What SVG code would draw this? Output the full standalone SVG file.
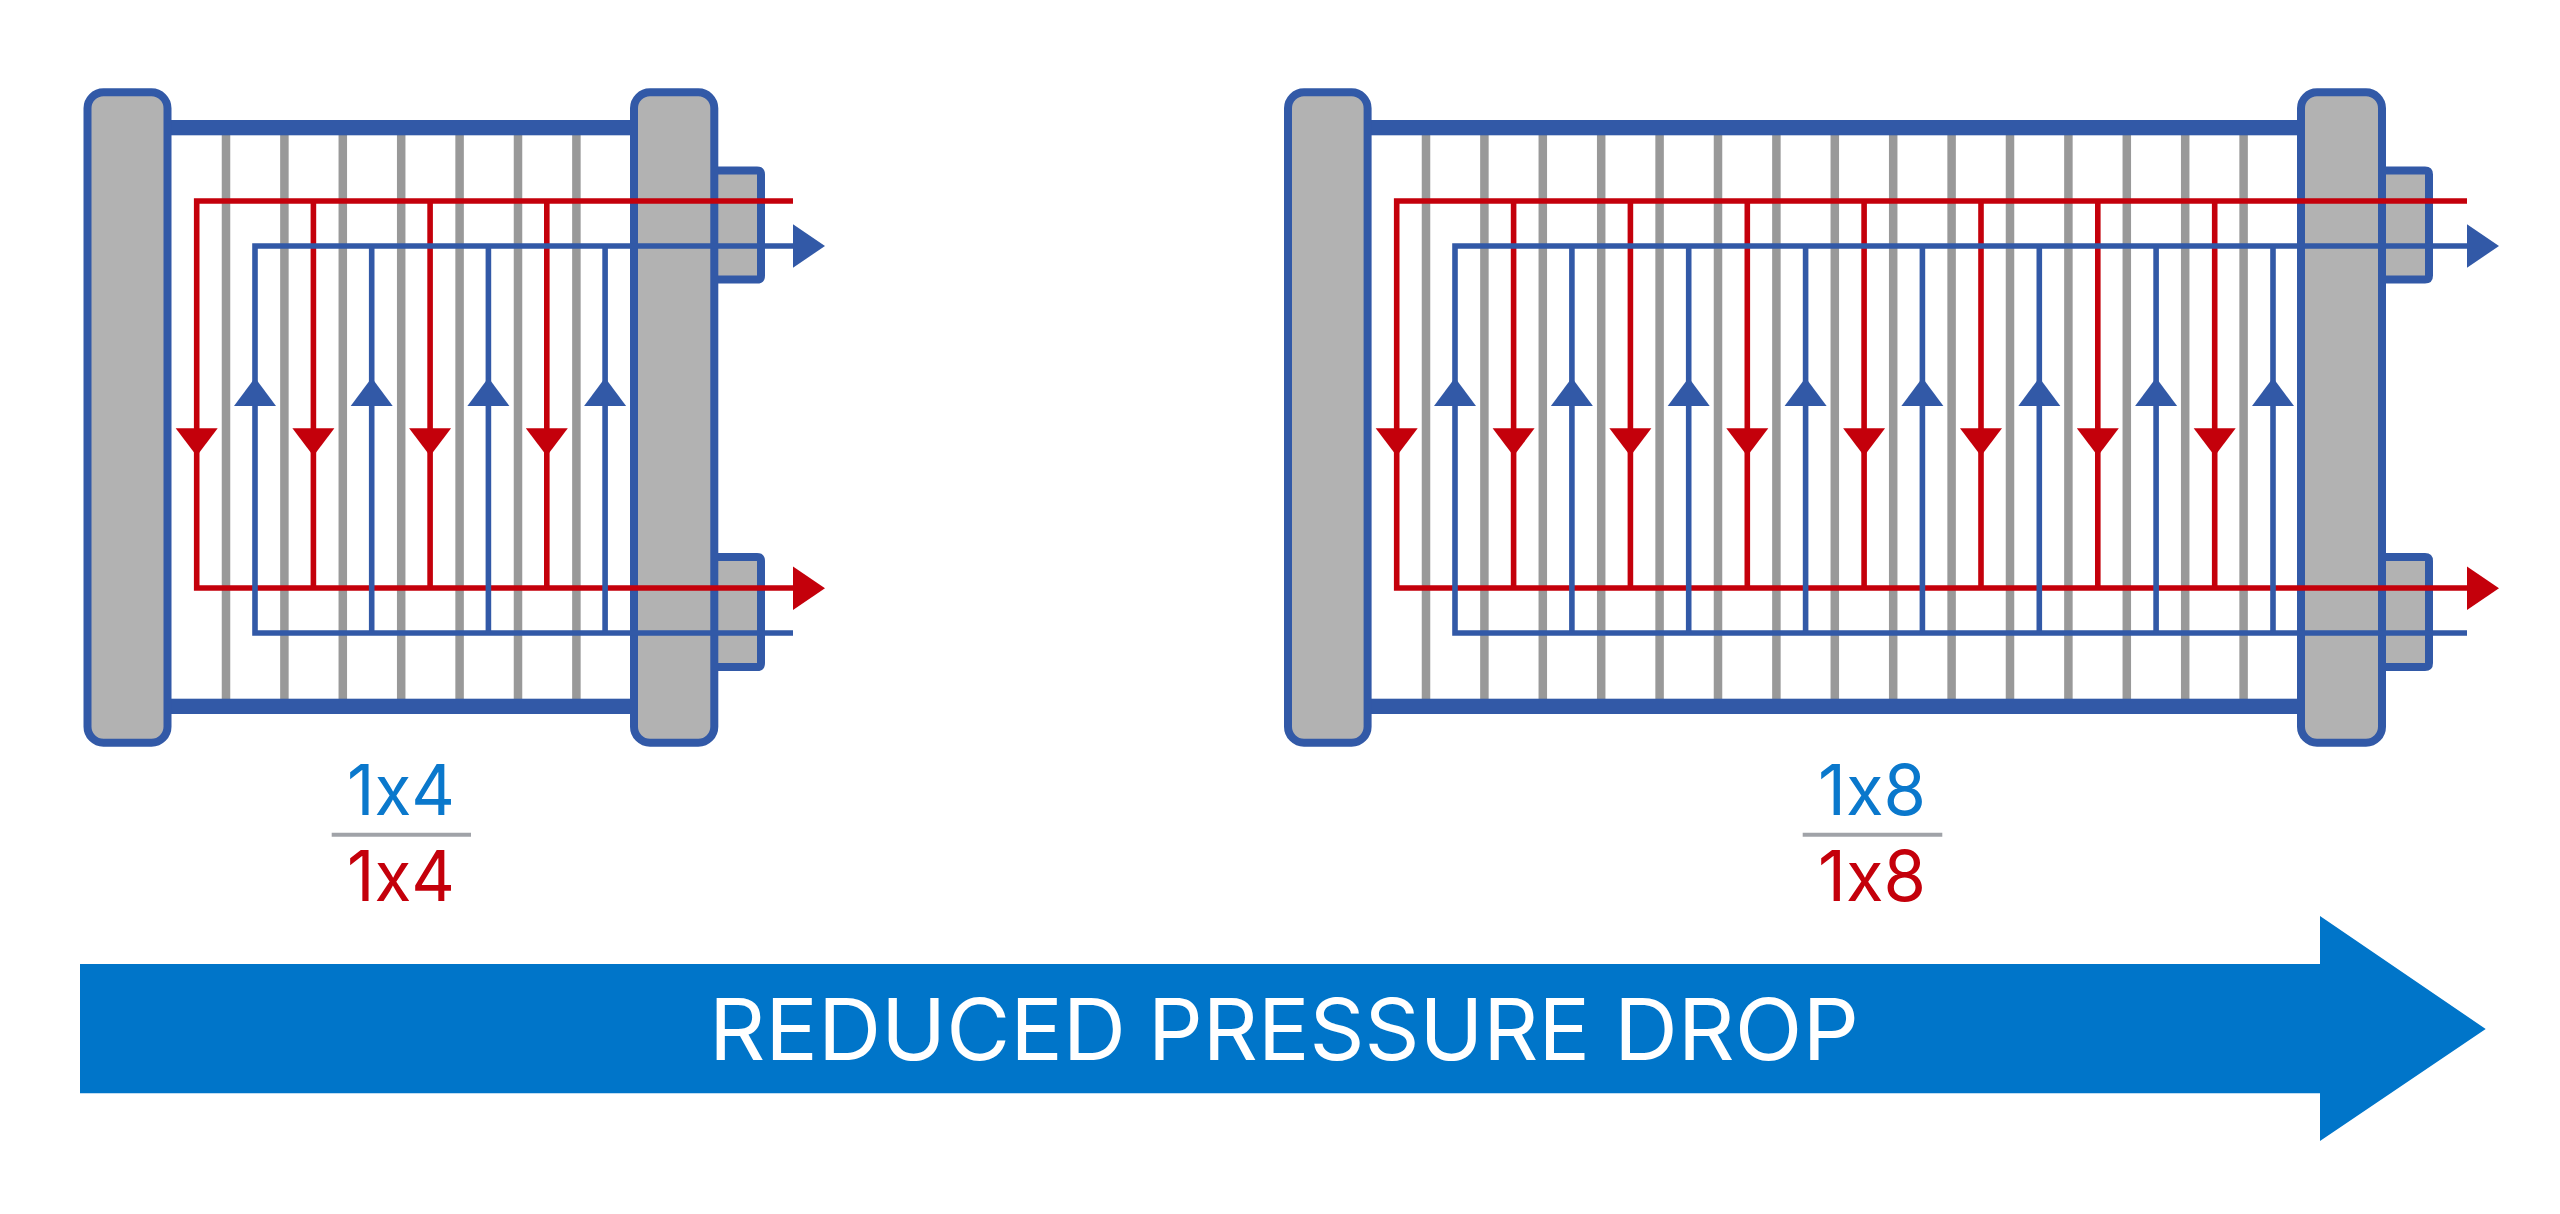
<svg xmlns="http://www.w3.org/2000/svg" xmlns:xlink="http://www.w3.org/1999/xlink" width="2560" height="1214" viewBox="0 0 2560 1214">
<style>
.tube{stroke:#999999;stroke-width:8.5;fill:none}
.bar{fill:#3259a7}
.hdr{fill:#b2b2b2;stroke:#3259a7;stroke-width:8}
.red{stroke:#c4000b;stroke-width:5.6;fill:none}
.blue{stroke:#3259a7;stroke-width:5.6;fill:none}
.sep{stroke:#a0a3a8;stroke-width:4}
.frac{font-family:"Inter","Liberation Sans",sans-serif;font-size:70px;font-weight:400;font-feature-settings:"calt" 0;font-variant-ligatures:none}
.fb{fill:#0a78cc}
.fr{fill:#c4000b}
.big{font-family:"Inter","Liberation Sans",sans-serif;font-size:85px;font-weight:400;fill:#ffffff}
</style>
<defs>
<polygon id="td" points="-21,428.3 21,428.3 0,456" fill="#c4000b"/>
<polygon id="tu" points="-21,406 21,406 0,377.7" fill="#3259a7"/>
<polygon id="trr" points="0,-21.7 32,0 0,21.7" fill="#c4000b"/>
<polygon id="trb" points="0,-21.7 32,0 0,21.7" fill="#3259a7"/>
</defs>
<g id="exchanger-1x4">
<g id="tubes-1x4">
<path class="tube" d="M226 135V699M284.4 135V699M342.8 135V699M401.2 135V699M459.6 135V699M518 135V699M576.4 135V699"/>
<rect class="bar" x="167" y="120" width="467" height="15.3"/>
<rect class="bar" x="167" y="698.7" width="467" height="15.3"/>
</g>
<g id="nozzle-top-1x4"><path class="hdr" d="M714 170.5H757Q761 170.5 761 174.5V275.5Q761 279.5 757 279.5H714Z"/></g>
<g id="nozzle-bottom-1x4"><path class="hdr" d="M714 557H757Q761 557 761 561V663Q761 667 757 667H714Z"/></g>
<g id="header-left-1x4"><rect class="hdr" x="87.5" y="92.3" width="80" height="650.4" rx="16"/></g>
<g id="header-right-1x4"><rect class="hdr" x="634" y="92.3" width="80.3" height="650.4" rx="16"/></g>
</g>
<g id="exchanger-1x8">
<g id="tubes-1x8">
<path class="tube" d="M1426 135V699M1484.4 135V699M1542.8 135V699M1601.2 135V699M1659.6 135V699M1718 135V699M1776.4 135V699M1834.8 135V699M1893.2 135V699M1951.6 135V699M2010 135V699M2068.4 135V699M2126.8 135V699M2185.2 135V699M2243.6 135V699"/>
<rect class="bar" x="1367" y="120" width="934" height="15.3"/>
<rect class="bar" x="1367" y="698.7" width="934" height="15.3"/>
</g>
<g id="nozzle-top-1x8"><path class="hdr" d="M2382 170.5H2425Q2429 170.5 2429 174.5V275.5Q2429 279.5 2425 279.5H2382Z"/></g>
<g id="nozzle-bottom-1x8"><path class="hdr" d="M2382 557H2425Q2429 557 2429 561V663Q2429 667 2425 667H2382Z"/></g>
<g id="header-left-1x8"><rect class="hdr" x="1288" y="92.3" width="79.6" height="650.4" rx="16"/></g>
<g id="header-right-1x8"><rect class="hdr" x="2301" y="92.3" width="81" height="650.4" rx="16"/></g>
</g>
<g id="connectors">
<g id="flow-red-1x4">
<path class="red" d="M793 201H196.7V588H793"/>
<path class="red" d="M313.4 201V588M430.1 201V588M546.8 201V588"/>
<use href="#td" xlink:href="#td" x="196.7"/><use href="#td" xlink:href="#td" x="313.4"/><use href="#td" xlink:href="#td" x="430.1"/><use href="#td" xlink:href="#td" x="546.8"/>
<use href="#trr" xlink:href="#trr" x="793" y="588.3"/>
</g>
<g id="flow-blue-1x4">
<path class="blue" d="M793 246H255V633H793"/>
<path class="blue" d="M371.7 246V633M488.4 246V633M605.1 246V633"/>
<use href="#tu" xlink:href="#tu" x="255"/><use href="#tu" xlink:href="#tu" x="371.7"/><use href="#tu" xlink:href="#tu" x="488.4"/><use href="#tu" xlink:href="#tu" x="605.1"/>
<use href="#trb" xlink:href="#trb" x="793" y="246"/>
</g>
<g id="flow-red-1x8">
<path class="red" d="M2467 201H1396.7V588H2467"/>
<path class="red" d="M1513.6 201V588M1630.4 201V588M1747.3 201V588M1864.1 201V588M1981 201V588M2097.8 201V588M2214.7 201V588"/>
<use href="#td" xlink:href="#td" x="1396.7"/><use href="#td" xlink:href="#td" x="1513.6"/><use href="#td" xlink:href="#td" x="1630.4"/><use href="#td" xlink:href="#td" x="1747.3"/><use href="#td" xlink:href="#td" x="1864.1"/><use href="#td" xlink:href="#td" x="1981"/><use href="#td" xlink:href="#td" x="2097.8"/><use href="#td" xlink:href="#td" x="2214.7"/>
<use href="#trr" xlink:href="#trr" x="2467" y="588.3"/>
</g>
<g id="flow-blue-1x8">
<path class="blue" d="M2467 246H1455V633H2467"/>
<path class="blue" d="M1571.9 246V633M1688.7 246V633M1805.6 246V633M1922.4 246V633M2039.3 246V633M2156.1 246V633M2273 246V633"/>
<use href="#tu" xlink:href="#tu" x="1455"/><use href="#tu" xlink:href="#tu" x="1571.9"/><use href="#tu" xlink:href="#tu" x="1688.7"/><use href="#tu" xlink:href="#tu" x="1805.6"/><use href="#tu" xlink:href="#tu" x="1922.4"/><use href="#tu" xlink:href="#tu" x="2039.3"/><use href="#tu" xlink:href="#tu" x="2156.1"/><use href="#tu" xlink:href="#tu" x="2273"/>
<use href="#trb" xlink:href="#trb" x="2467" y="246"/>
</g>
</g>
<g id="label-1x4">
<text class="frac fb" x="347" y="815" textLength="108" lengthAdjust="spacingAndGlyphs">1x4</text>
<line class="sep" x1="331.7" y1="834.7" x2="471" y2="834.7"/>
<text class="frac fr" x="347" y="900.7" textLength="108" lengthAdjust="spacingAndGlyphs">1x4</text>
</g>
<g id="label-1x8">
<text class="frac fb" x="1818" y="815" textLength="108" lengthAdjust="spacingAndGlyphs">1x8</text>
<line class="sep" x1="1802.7" y1="834.7" x2="1942.3" y2="834.7"/>
<text class="frac fr" x="1818" y="900.7" textLength="108" lengthAdjust="spacingAndGlyphs">1x8</text>
</g>
<g id="pressure-arrow">
<polygon points="80,964 2320,964 2320,916 2485.7,1029 2320,1141 2320,1093.3 80,1093.3" fill="#0075c9"/>
<text class="big" x="709" y="1060" textLength="417" lengthAdjust="spacingAndGlyphs">REDUCED</text>
<text class="big" x="1148" y="1060" textLength="442" lengthAdjust="spacingAndGlyphs">PRESSURE</text>
<text class="big" x="1614" y="1060" textLength="245" lengthAdjust="spacingAndGlyphs">DROP</text>
</g>
</svg>
